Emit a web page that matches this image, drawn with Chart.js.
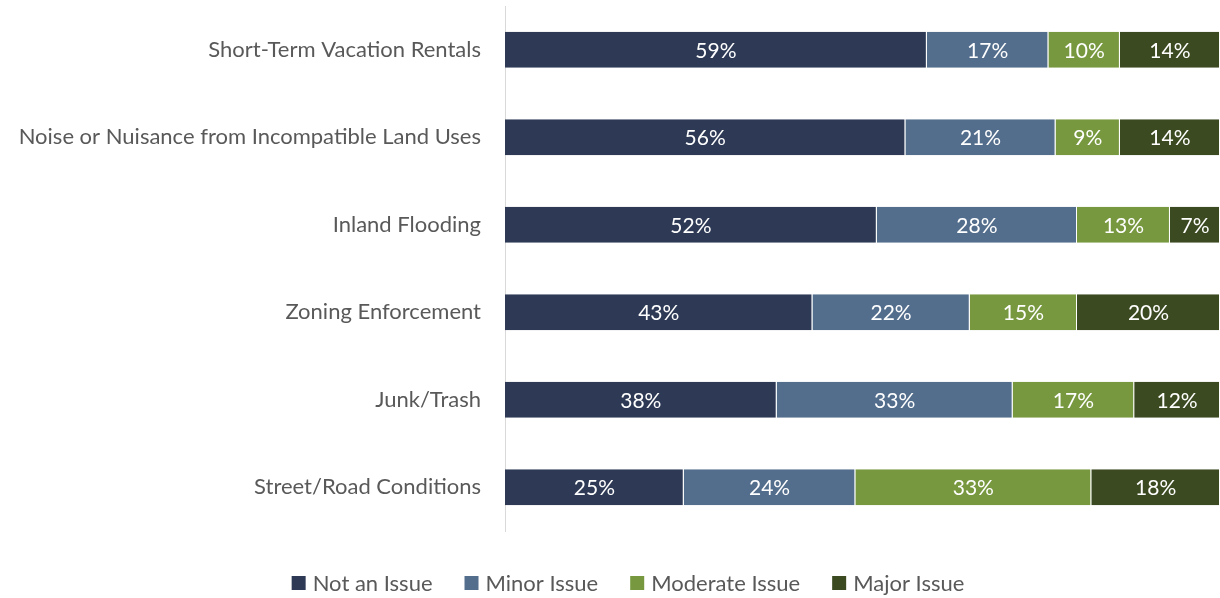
<!DOCTYPE html>
<html>
<head>
<meta charset="utf-8">
<script src="https://cdn.jsdelivr.net/npm/chart.js@4/dist/chart.umd.min.js"></script>
<style>
  html, body { margin: 0; padding: 0; background: #fff; }
  #wrap { width: 1220px; height: 598px; position: relative; }
</style>
</head>
<body>
<div id="wrap"><canvas id="issueChart"></canvas></div>
<script>
// Categories and series
const categories = [
    'Short-Term Vacation Rentals',
    'Noise or Nuisance from Incompatible Land Uses',
    'Inland Flooding',
    'Zoning Enforcement',
    'Junk/Trash',
    'Street/Road Conditions'
];
const notAnIssue = [59, 56, 52, 43, 38, 25];
const minorIssue = [17, 21, 28, 22, 33, 24];
const moderateIssue = [10, 9, 13, 15, 17, 33];
const majorIssue = [14, 14, 7, 20, 12, 18];

const fontFamily = 'Lato, "Open Sans", sans-serif';
const textGrey = '#595959';

// Percentage labels inside each segment
const barLabels = {
    id: 'barLabels',
    afterDatasetsDraw(chart) {
        const c = chart.ctx;
        c.save();
        c.fillStyle = '#ffffff';
        c.font = '21px ' + fontFamily;
        c.textAlign = 'center';
        c.textBaseline = 'middle';
        chart.data.datasets.forEach((ds, i) => {
            chart.getDatasetMeta(i).data.forEach((bar, j) => {
                const x = (bar.x + bar.base) / 2;
                c.fillText(ds.data[j] + '%', x, bar.y + 1);
            });
        });
        c.restore();
    }
};

// Legend drawn under the plot, Excel style
const bottomLegend = {
    id: 'bottomLegend',
    afterDraw(chart) {
        const c = chart.ctx;
        const box = 14, gap = 7, spacing = 32, y = 583;
        c.save();
        c.font = '22px ' + fontFamily;
        c.textBaseline = 'middle';
        const items = chart.data.datasets.map(ds => ({
            text: ds.label,
            color: ds.backgroundColor,
            w: box + gap + c.measureText(ds.label).width
        }));
        const total = items.reduce((s, it) => s + it.w, 0) + spacing * (items.length - 1);
        let x = 628 - total / 2;
        items.forEach(it => {
            c.fillStyle = it.color;
            c.fillRect(x, y - box / 2, box, box);
            c.fillStyle = textGrey;
            c.fillText(it.text, x + box + gap, y + 1);
            x += it.w + spacing;
        });
        c.restore();
    }
};

const ctx = document.getElementById('issueChart').getContext('2d');

let chart = new Chart(ctx, {
    type: 'bar',
    data: {
        labels: categories,
        datasets: [
            { label: 'Not an Issue', data: notAnIssue, backgroundColor: '#2e3a55' },
            { label: 'Minor Issue', data: minorIssue, backgroundColor: '#536d8c' },
            { label: 'Moderate Issue', data: moderateIssue, backgroundColor: '#77983f' },
            { label: 'Major Issue', data: majorIssue, backgroundColor: '#3b4a20' }
        ]
    },
    options: {
        indexAxis: 'y',
        responsive: true,
        maintainAspectRatio: false,
        animation: false,
        datasets: {
            bar: {
                barPercentage: 0.82,
                categoryPercentage: 0.5,
                borderColor: 'rgba(255,255,255,0.6)',
                borderWidth: { left: 0, right: 1, top: 0, bottom: 0 },
                borderSkipped: false
            }
        },
        layout: {
            padding: { top: 6, right: 0, bottom: 67, left: 0 }
        },
        scales: {
            x: {
                stacked: true,
                min: 0,
                max: 100,
                display: false
            },
            y: {
                stacked: true,
                grid: { display: false },
                border: { display: true, color: '#d9d9d9', width: 1 },
                ticks: {
                    color: textGrey,
                    padding: 16,
                    font: { family: fontFamily, size: 22 }
                },
                afterFit(scale) {
                    scale.width = 505;
                    scale.paddingTop = 0;
                    scale.paddingBottom = 0;
                }
            }
        },
        plugins: {
            legend: { display: false },
            tooltip: { enabled: false }
        }
    },
    plugins: [barLabels, bottomLegend]
});
</script>
</body>
</html>
